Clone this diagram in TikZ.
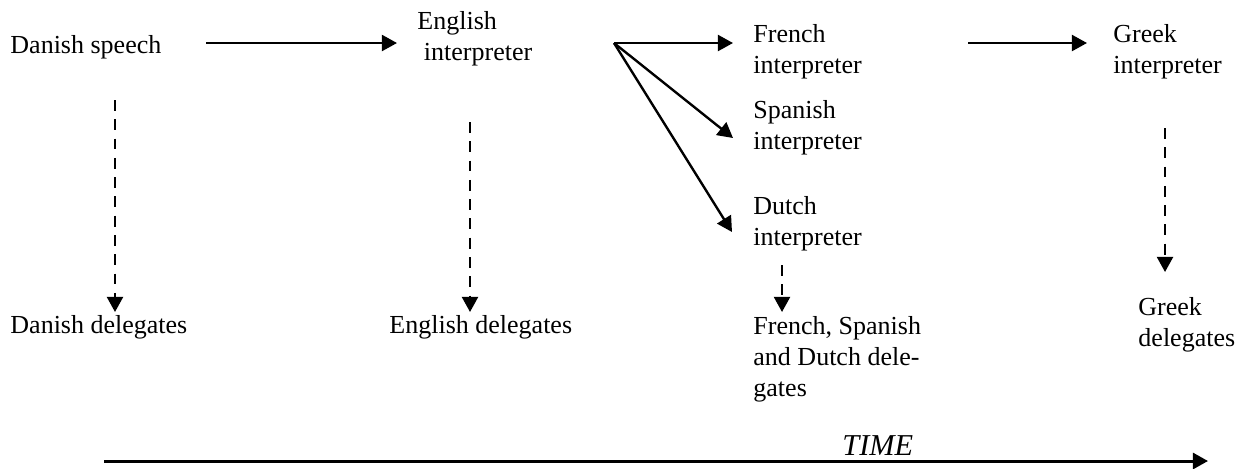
\documentclass[tikz,border=0pt]{standalone}
\usepackage{fontspec}
\setmainfont{Liberation Serif}
\usetikzlibrary{arrows.meta,positioning}

\begin{document}
\begin{tikzpicture}[x=0.4615pt,y=-0.4615pt,
    lbl/.style={anchor=base west,inner sep=0pt,align=left,font=\fontsize{12}{14.3}\selectfont},
    flow/.style={line width=1.1pt,-{Triangle[length=7pt,width=7.4pt]}},
    hear/.style={flow,dash pattern=on 5pt off 3.9pt}]
  \useasboundingbox (0,0) rectangle (1244,468);
  % speakers and interpreters (placed at the baseline of their last line)
  \node[lbl] (speech) at (10,53) {Danish speech};
  \node[lbl] (engint) at (417,60) {English\\\hspace*{0.25em}interpreter};
  \node[lbl] (frint) at (753,73) {French\\interpreter};
  \node[lbl] (spint) at (753,149) {Spanish\\interpreter};
  \node[lbl] (duint) at (753,245) {Dutch\\interpreter};
  \node[lbl] (grint) at (1113,73) {Greek\\interpreter};
  % listeners
  \node[lbl] (dadel) at (10,333) {Danish delegates};
  \node[lbl] (endel) at (389,333) {English delegates};
  \node[lbl] (fsddel) at (753,396) {French, Spanish\\and Dutch dele-\\gates};
  \node[lbl] (grdel) at (1138,346) {Greek\\delegates};
  \node[lbl,font=\fontsize{14}{16}\selectfont\itshape] (time) at (842,455) {TIME};
  % connector ends
  \coordinate (speechout) at (206,43);
  \coordinate (engin) at (397,43);
  \coordinate (fork) at (614,43);
  \coordinate (frin) at (733,43);
  \coordinate (spin) at (733,138);
  \coordinate (duin) at (732,232);
  \coordinate (frout) at (968,43);
  \coordinate (grin) at (1087,43);
  \coordinate (dafrom) at (115,100);
  \coordinate (dato) at (115,312);
  \coordinate (enfrom) at (470,122);
  \coordinate (ento) at (470,312);
  \coordinate (dufrom) at (782,265);
  \coordinate (duto) at (782,312);
  \coordinate (grfrom) at (1165,128);
  \coordinate (grto) at (1165,272);
  \coordinate (tstart) at (104,461);
  \coordinate (tend) at (1208,461);
  % relay
  \draw[flow] (speechout) -- (engin);
  \foreach \T in {frin,spin,duin}
    \draw[flow] (fork) -- (\T);
  \draw[flow] (frout) -- (grin);
  % what the delegates hear
  \draw[hear] (dafrom) -- (dato);
  \draw[hear] (enfrom) -- (ento);
  \draw[hear] (dufrom) -- (duto);
  \draw[hear] (grfrom) -- (grto);
  % time axis
  \draw[flow,line width=1.4pt] (tstart) -- (tend);
\end{tikzpicture}
\end{document}
